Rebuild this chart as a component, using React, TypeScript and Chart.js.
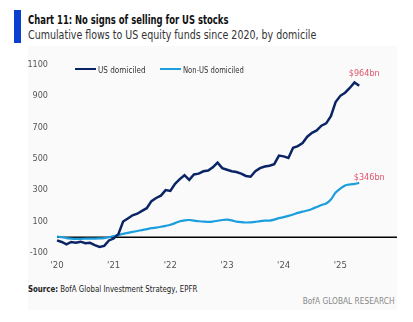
import React, { useEffect, useRef } from "react";
import { Chart, registerables } from "chart.js";

Chart.register(...registerables);

const years = [2020, 2021, 2022, 2023, 2024, 2025];
const months: string[] = [];
years.forEach((y) => {
  for (let m = 1; m <= 12; m++) months.push(`${y}-${String(m).padStart(2, "0")}`);
});
months.push("2026-01");

const usDomiciled = [
  -20, -30, -45, -30, -35, -28, -38, -35, -50, -62, -55, -20,
  -8, 20, 100, 120, 140, 150, 168, 185, 230, 250, 265, 300,
  295, 340, 370, 395, 365, 400, 405, 420, 425, 445, 475, 440,
  430, 420, 415, 405, 390, 385, 420, 440, 450, 455, 465, 520,
  515, 505, 570, 580, 600, 640, 665, 680, 710, 725, 770, 860,
  900, 920, 950, 985, 964,
];

const nonUsDomiciled = [
  5, 0, -5, -8, -10, -10, -9, -8, -8, -7, -5, 0,
  8, 15, 22, 28, 34, 40, 46, 52, 58, 62, 67, 73,
  80, 90, 102, 108, 110, 106, 102, 100, 98, 100, 105, 110,
  112, 108, 100, 96, 94, 95, 98, 103, 106, 106, 112, 122,
  128, 136, 145, 155, 163, 170, 180, 192, 205, 215, 240, 285,
  310, 330, 336, 340, 346,
];

const yTicks = [-100, 100, 300, 500, 700, 900, 1100];
const endLabels = ["$964bn", "$346bn"];

const FONT = "'DejaVu Sans Condensed', Roboto, sans-serif";

function Txt(props: { left?: number; right?: number; top: number; size: number; sx: number; color: string; bold?: boolean; children: any }) {
  const { left, right, top, size, sx, color, bold, children } = props;
  return (
    <div
      style={{
        position: "absolute",
        left,
        right,
        top,
        fontSize: size,
        fontWeight: bold ? 700 : 400,
        color,
        whiteSpace: "nowrap",
        transform: `scaleX(${sx})`,
        transformOrigin: right !== undefined ? "right center" : "left center",
        lineHeight: 1.2,
      }}
    >
      {children}
    </div>
  );
}

export default function App() {
  const ref = useRef<HTMLCanvasElement | null>(null);

  useEffect(() => {
    if (!ref.current) return;
    const zeroLine = {
      id: "zeroLine",
      beforeDatasetsDraw(chart: any) {
        const { ctx, chartArea, scales } = chart;
        const y = scales.y.getPixelForValue(0);
        ctx.save();
        ctx.strokeStyle = "#000";
        ctx.lineWidth = 1.5;
        ctx.beginPath();
        ctx.moveTo(chartArea.left, y);
        ctx.lineTo(chartArea.right, y);
        ctx.stroke();
        ctx.restore();
      },
    };
    const endLabelPlugin = {
      id: "endLabels",
      afterDatasetsDraw(chart: any) {
        const { ctx } = chart;
        ctx.save();
        ctx.fillStyle = "#e0566c";
        ctx.font = `9px ${FONT}`;
        ctx.textAlign = "center";
        ctx.textBaseline = "middle";
        const offs = [
          [5, -12],
          [10, -5],
        ];
        [0, 1].forEach((i) => {
          const meta = chart.getDatasetMeta(i);
          const pt = meta.data[meta.data.length - 1];
          ctx.fillText(endLabels[i], pt.x + offs[i][0], pt.y + offs[i][1]);
        });
        ctx.restore();
      },
    };
    const chart = new Chart(ref.current, {
      type: "line",
      data: {
        labels: months,
        datasets: [
          {
            label: "US domiciled",
            data: usDomiciled,
            borderColor: "#0b2466",
            borderWidth: 2.5,
            pointRadius: 0,
            tension: 0,
          },
          {
            label: "Non-US domiciled",
            data: nonUsDomiciled,
            borderColor: "#1a9ede",
            borderWidth: 2.2,
            pointRadius: 0,
            tension: 0.3,
          },
        ],
      },
      options: {
        animation: false,
        responsive: false,
        layout: { padding: { top: 10, right: 16, left: 0, bottom: 0 } },
        plugins: { legend: { display: false }, tooltip: { enabled: false } },
        scales: {
          x: {
            type: "category",
            offset: false,
            grid: { display: false, drawTicks: false },
            border: { display: false },
            ticks: {
              autoSkip: false,
              maxRotation: 0,
              padding: 7,
              color: "#555",
              font: { family: FONT, size: 9.5 },
              callback: (_v: any, i: number) => {
                const l = months[i];
                if (l.endsWith("-01") && !l.startsWith("2026")) return "'" + l.slice(2, 4);
                return "";
              },
            },
            afterFit: (s: any) => {
              s.height = 27;
            },
          },
          y: {
            min: -100,
            max: 1100,
            grid: { display: false, drawTicks: false },
            border: { display: false },
            afterBuildTicks: (s: any) => {
              s.ticks = yTicks.map((v) => ({ value: v }));
            },
            ticks: {
              padding: 9,
              color: "#555",
              font: { family: FONT, size: 9 },
              callback: (v: any) => String(v),
            },
            afterFit: (s: any) => {
              s.width = 57;
            },
          },
        },
      },
      plugins: [zeroLine, endLabelPlugin],
    });
    return () => chart.destroy();
  }, []);

  const legendItem = (color: string, text: string, left: number, sx: number) => (
    <div style={{ position: "absolute", left, top: 63, display: "flex", alignItems: "center", height: 12 }}>
      <div style={{ width: 21, height: 2.5, background: color, marginRight: 2 }} />
      <span style={{ fontSize: 9.5, color: "#333", whiteSpace: "nowrap", display: "inline-block", transform: `scaleX(${sx})`, transformOrigin: "left center" }}>{text}</span>
    </div>
  );

  return (
    <div style={{ position: "absolute", left: 0, top: 0, width: 413, height: 322, background: "#fff", fontFamily: FONT }}>
      <div style={{ position: "absolute", left: 28, top: 46, width: 369, height: 264, background: "#fafafa" }} />
      <div style={{ position: "absolute", left: 14, top: 10, width: 7, height: 33, background: "#0a3fd0" }} />
      <Txt left={28} top={12} size={12.5} sx={0.75} color="#111" bold>
        Chart 11: No signs of selling for US stocks
      </Txt>
      <Txt left={28} top={27} size={12.5} sx={0.845} color="#333">
        Cumulative flows to US equity funds since 2020, by domicile
      </Txt>
      <canvas ref={ref} width={413} height={230} style={{ position: "absolute", left: 0, top: 50 }} />
      {legendItem("#0b2466", "US domiciled", 75, 0.85)}
      {legendItem("#1a9ede", "Non-US domiciled", 160, 0.8)}
      <Txt left={28} top={283} size={9.5} sx={0.82} color="#222">
        <b>Source:</b> BofA Global Investment Strategy, EPFR
      </Txt>
      <Txt right={19} top={295} size={9.5} sx={0.87} color="#888">
        BofA GLOBAL RESEARCH
      </Txt>
    </div>
  );
}
